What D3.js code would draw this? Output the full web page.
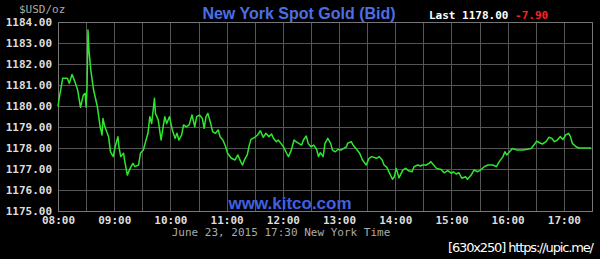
<!DOCTYPE html>
<html>
<head>
<meta charset="utf-8">
<script src="https://cdn.jsdelivr.net/npm/d3@7"></script>
<style>
  html, body { margin: 0; padding: 0; background: #000; }
  svg { display: block; }
</style>
</head>
<body>
<script>
var times = ["08:00","08:01","08:05","08:10","08:12","08:15","08:18","08:21","08:24","08:27",
  "08:29","08:30","08:31","08:32","08:33","08:35","08:38","08:40","08:42","08:45",
  "08:47","08:48","08:50","08:54","08:56","08:59","09:01","09:04","09:05","09:07",
  "09:10","09:11","09:14","09:17","09:20","09:22","09:26","09:28","09:31","09:33",
  "09:36","09:38","09:40","09:43","09:44","09:47","09:50","09:54","09:56","09:59",
  "10:02","10:05","10:07","10:09","10:12","10:14","10:17","10:20","10:23","10:26",
  "10:28","10:31","10:34","10:36","10:38","10:40","10:43","10:45","10:48","10:51",
  "10:53","10:56","10:59","11:01","11:05","11:09","11:12","11:15","11:17","11:19",
  "11:22","11:24","11:26","11:30","11:33","11:36","11:39","11:42","11:45","11:48",
  "11:50","11:53","11:55","11:58","12:01","12:04","12:06","12:09","12:12","12:14",
  "12:17","12:20","12:22","12:25","12:27","12:30","12:33","12:36","12:38","12:40",
  "12:43","12:45","12:48","12:51","12:53","12:56","12:59","13:02","13:05","13:08",
  "13:09","13:13","13:15","13:18","13:22","13:25","13:29","13:32","13:35","13:40",
  "13:43","13:46","13:48","13:51","13:54","13:57","13:59","14:01","14:04","14:08",
  "14:11","14:14","14:18","14:20","14:24","14:27","14:29","14:33","14:36","14:38",
  "14:41","14:44","14:49","14:52","14:56","15:00","15:02","15:05","15:08","15:11",
  "15:15","15:17","15:21","15:24","15:28","15:31","15:35","15:39","15:44","15:48",
  "15:51","15:55","15:57","15:59","16:02","16:05","16:10","16:16","16:21","16:25",
  "16:28","16:31","16:34","16:37","16:41","16:44","16:47","16:50","16:53","16:56",
  "16:59","17:02","17:05","17:07","17:09","17:13","17:16","17:29"];

var bids = [1179.97,1180.29,1181.32,1181.32,1181.08,1181.50,1181.16,1180.76,1179.94,1180.52,
  1180.60,1179.94,1180.92,1183.62,1182.67,1181.71,1180.76,1180.37,1179.97,1179.01,
  1178.62,1179.41,1179.01,1178.54,1177.82,1177.59,1178.06,1178.54,1178.06,1177.59,
  1177.75,1177.43,1176.71,1177.03,1177.27,1177.11,1177.19,1177.75,1177.90,1178.22,
  1178.70,1179.49,1179.17,1180.37,1179.65,1179.33,1178.38,1179.49,1179.17,1179.49,
  1178.86,1178.46,1178.70,1178.38,1178.62,1179.10,1179.01,1179.10,1179.57,1179.01,
  1179.49,1179.57,1179.41,1178.94,1179.49,1179.65,1179.17,1178.78,1178.70,1178.86,
  1178.54,1178.38,1178.06,1177.75,1177.51,1177.43,1177.67,1177.35,1177.19,1177.43,
  1177.67,1178.10,1178.41,1178.51,1178.62,1178.82,1178.51,1178.70,1178.54,1178.67,
  1178.46,1178.30,1178.38,1178.22,1178.03,1177.75,1177.59,1177.90,1178.38,1178.30,
  1178.22,1178.14,1178.38,1178.57,1178.22,1178.06,1178.14,1177.94,1177.59,1177.78,
  1177.59,1178.22,1178.46,1178.22,1177.90,1177.82,1177.94,1177.90,1177.98,1178.06,
  1178.22,1178.30,1178.14,1177.98,1177.75,1177.43,1177.19,1177.51,1177.59,1177.51,
  1177.59,1177.43,1177.19,1177.08,1176.79,1176.51,1176.63,1177.03,1176.58,1176.95,
  1177.03,1176.92,1176.87,1177.11,1177.19,1177.14,1177.19,1177.19,1177.27,1177.35,
  1177.19,1177.03,1176.98,1176.82,1176.92,1176.79,1176.87,1176.76,1176.82,1176.56,
  1176.63,1176.51,1176.71,1176.95,1176.87,1176.95,1177.11,1177.19,1177.19,1177.11,
  1177.35,1177.59,1177.82,1177.67,1177.82,1177.98,1177.90,1177.90,1177.94,1177.98,
  1178.14,1178.33,1178.25,1178.19,1178.30,1178.51,1178.46,1178.30,1178.38,1178.54,
  1178.41,1178.62,1178.70,1178.54,1178.22,1178.06,1178.00,1178.00];

var yTicks = [1175,1176,1177,1178,1179,1180,1181,1182,1183,1184];
var hourTicks = ["08:00","09:00","10:00","11:00","12:00","13:00","14:00","15:00","16:00","17:00"];
var lastPrice = "1178.00";
var change = "-7.90";

var parse = d3.timeParse("%Y-%m-%d %H:%M");
var day = "2015-06-23 ";
var data = times.map((t, i) => ({t: parse(day + t), v: bids[i]}));

var width = 600, height = 259;
var plot = {left: 58, right: 592, top: 22, bottom: 211};
var mono = "'DejaVu Sans Mono', monospace";

var svg = d3.select("body")
    .append("svg")
    .attr("width", width)
    .attr("height", height)
    .style("background-color", "#000")

var x = d3.scaleTime()
    .domain([parse(day + "08:00"), parse(day + "17:30")])
    .range([plot.left, plot.right])
var y = d3.scaleLinear()
    .domain([1175, 1184])
    .range([plot.bottom, plot.top])

// grid: half hour verticals, one dollar horizontals
svg.append("g")
    .attr("transform", "translate(0," + plot.bottom + ")")
    .call(d3.axisBottom(x).ticks(d3.timeMinute.every(30)).tickSize(-(plot.bottom - plot.top)).tickFormat(""))
    .call(g => g.select(".domain").remove())
    .selectAll("line")
    .attr("stroke", "#555")
    .attr("shape-rendering", "crispEdges")

svg.append("g")
    .attr("transform", "translate(" + plot.left + ",0)")
    .call(d3.axisLeft(y).tickValues(yTicks).tickSize(-(plot.right - plot.left)).tickFormat(""))
    .call(g => g.select(".domain").remove())
    .selectAll("line")
    .attr("stroke", "#555")
    .attr("shape-rendering", "crispEdges")

svg.append("rect")
    .attr("x", plot.left)
    .attr("y", plot.top)
    .attr("width", plot.right - plot.left)
    .attr("height", plot.bottom - plot.top)
    .attr("fill", "none")
    .attr("stroke", "#777")
    .attr("shape-rendering", "crispEdges")

// tick labels
var yAxis = svg.append("g")
    .attr("transform", "translate(" + plot.left + ",0)")
    .call(d3.axisLeft(y).tickValues(yTicks).tickSize(0).tickPadding(6).tickFormat(d3.format(".2f")))
yAxis.select(".domain").remove()
yAxis.selectAll("text")
    .attr("fill", "#ddd")
    .style("font-family", mono)
    .style("font-size", "11px")
    .style("font-weight", "bold")

var xAxis = svg.append("g")
    .attr("transform", "translate(0," + plot.bottom + ")")
    .call(d3.axisBottom(x).tickValues(hourTicks.map(h => parse(day + h))).tickSize(0).tickPadding(5).tickFormat(d3.timeFormat("%H:%M")))
xAxis.select(".domain").remove()
xAxis.selectAll("text")
    .attr("fill", "#ddd")
    .style("font-family", mono)
    .style("font-size", "11px")
    .style("font-weight", "bold")

// price line
svg.append("path")
    .datum(data)
    .attr("fill", "none")
    .attr("stroke", "#2ee82e")
    .attr("stroke-width", 1.5)
    .attr("stroke-linejoin", "round")
    .attr("d", d3.line().x(d => x(d.t)).y(d => y(d.v)))

// texts
svg.append("text")
    .attr("x", 19).attr("y", 13)
    .attr("fill", "#aaa")
    .style("font-family", mono)
    .style("font-size", "11px")
    .text("$USD/oz")

svg.append("text")
    .attr("x", 299).attr("y", 19)
    .attr("text-anchor", "middle")
    .attr("fill", "#4b6fe3")
    .style("font-family", "'Liberation Sans', Arial, sans-serif")
    .style("font-size", "16px")
    .style("font-weight", "bold")
    .text("New York Spot Gold (Bid)")

var last = svg.append("text")
    .attr("x", 429).attr("y", 19)
    .style("font-family", mono)
    .style("font-size", "11px")
    .style("font-weight", "bold")
last.append("tspan").attr("fill", "#fff").text("Last " + lastPrice + " ")
last.append("tspan").attr("fill", "#ff2020").text(change)

svg.append("text")
    .attr("x", 290).attr("y", 209)
    .attr("text-anchor", "middle")
    .attr("fill", "#4060e0")
    .style("font-family", "'Liberation Sans', Arial, sans-serif")
    .style("font-size", "17px")
    .style("font-weight", "bold")
    .text("www.kitco.com")

svg.append("text")
    .attr("x", 281).attr("y", 236)
    .attr("text-anchor", "middle")
    .attr("fill", "#aaa")
    .style("font-family", mono)
    .style("font-size", "11px")
    .text("June 23, 2015 17:30 New York Time")

svg.append("text")
    .attr("x", 448).attr("y", 252)
    .attr("fill", "#fff")
    .attr("textLength", 146)
    .style("font-family", "'DejaVu Sans', sans-serif")
    .style("font-size", "13px")
    .text("[630x250] https://upic.me/")
</script>
</body>
</html>
